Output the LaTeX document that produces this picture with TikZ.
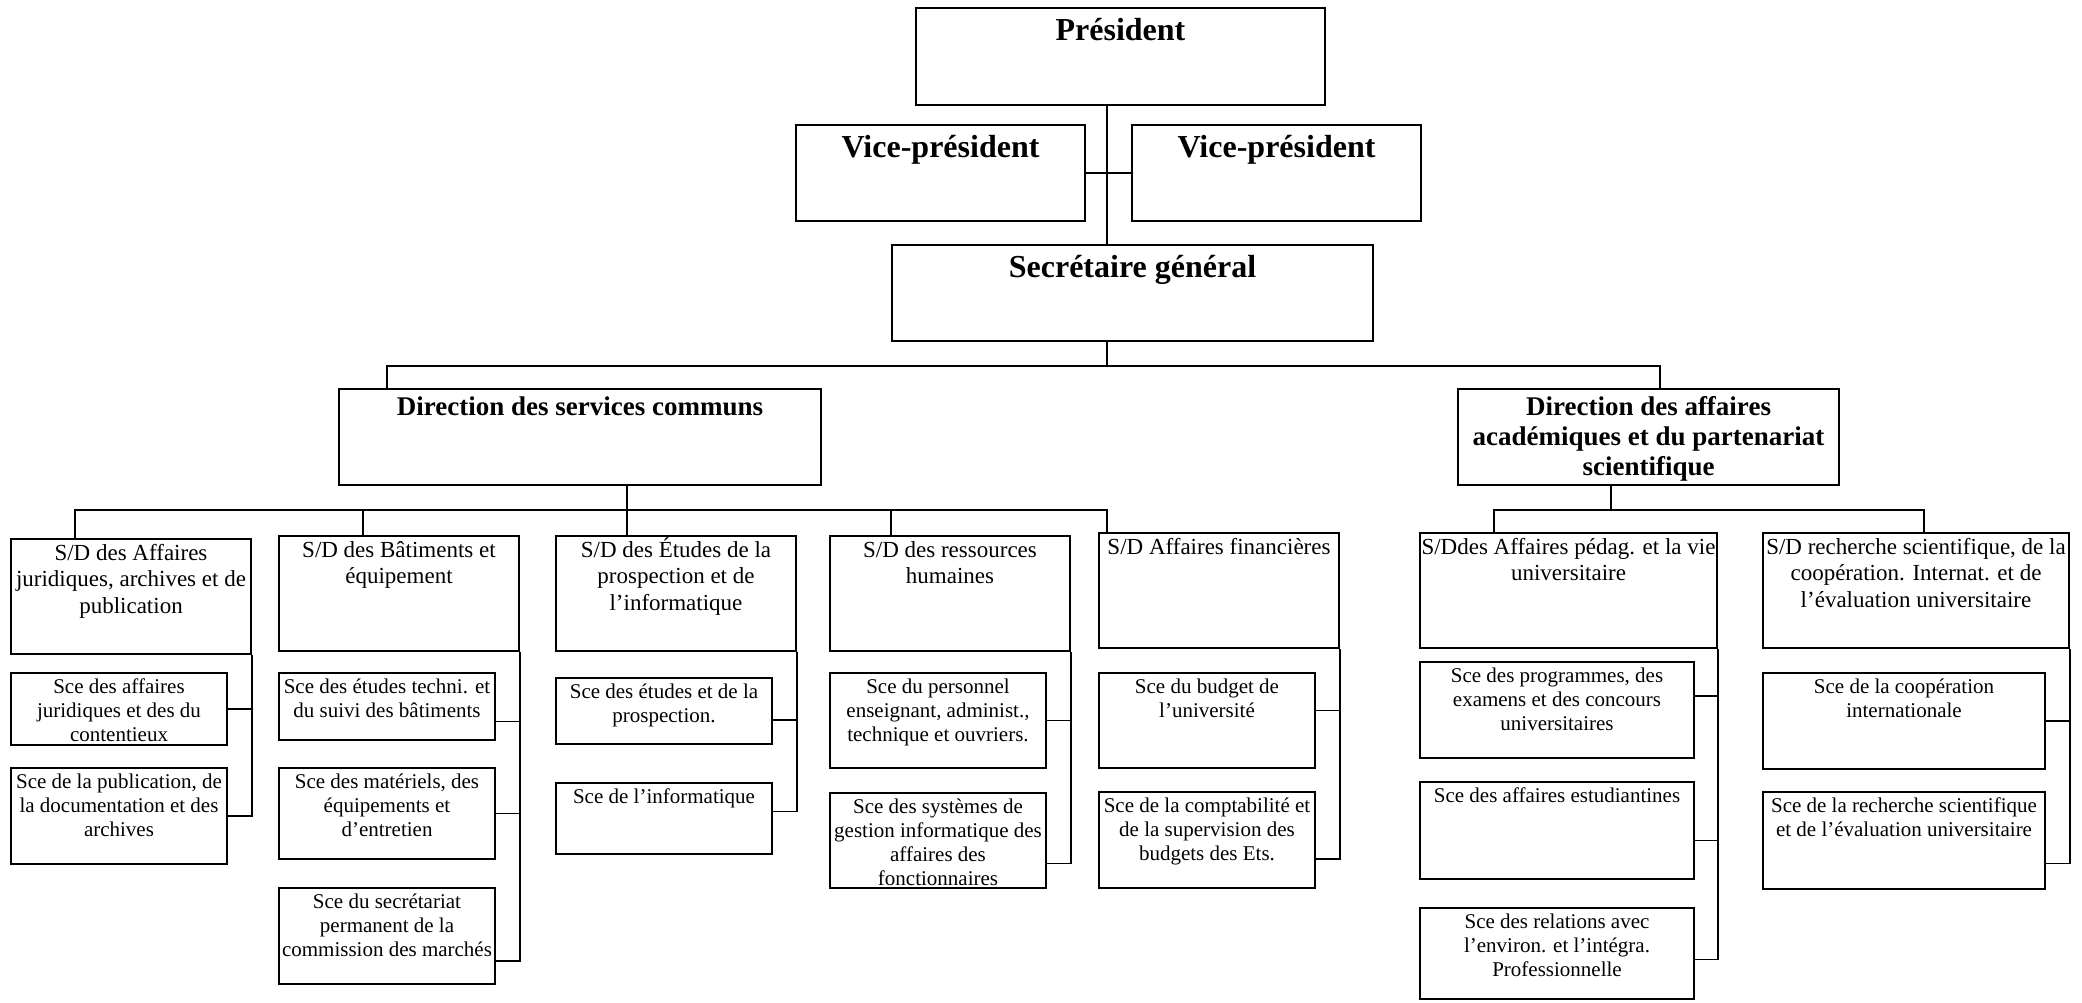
\documentclass[tikz,border=0pt]{standalone}
\usepackage{fontspec}
\setmainfont{Liberation Serif}
\usepackage{tikz}
\usetikzlibrary{calc}

% 1 pixel de l'original = 0.5pt
\newdimen\pxu
\pxu=0.5pt
\newlength{\hautmarge}
\newcommand{\cadre}[3]{\parbox[t][#2\pxu][t]{#1\pxu}{\centering\rule{0pt}{\hautmarge}#3}}

\begin{document}
\begin{tikzpicture}[
	x=0.5pt,
	y=-0.5pt,
	boite/.style={
		draw,
		line width=1pt,
		inner sep=0pt,
		anchor=north west
	},
	chef/.style={
		boite,
		font=\bfseries\fontsize{16}{19}\selectfont\setlength{\hautmarge}{16pt}
	},
	direction/.style={
		boite,
		font=\bfseries\fontsize{13.5}{15}\selectfont\setlength{\hautmarge}{13pt}
	},
	sousdir/.style={
		boite,
		font=\fontsize{11.5}{13.3}\selectfont\setlength{\hautmarge}{10.5pt}
	},
	service/.style={
		boite,
		font=\fontsize{10.5}{12}\selectfont\setlength{\hautmarge}{10pt}
	},
	lien/.style={
		line width=0.9pt
	}
]
	\useasboundingbox (0,0) rectangle (2082,1002);

	% Président
	\node[chef] (pres) at (915,7) {\cadre{409}{97}{Président}};
	% Vice-présidents
	\node[chef] (vpg) at (795,124) {\cadre{289}{96}{Vice-président}};
	\node[chef] (vpd) at (1131,124) {\cadre{289}{96}{Vice-président}};
	% Secrétaire général
	\node[chef] (sg) at (891,244) {\cadre{481}{96}{Secrétaire général}};

	% Directions
	\node[direction] (dsc) at (338,388) {\cadre{482}{96}{Direction des services communs}};
	\node[direction] (daa) at (1457,388) {\cadre{381}{96}{Direction des affaires\\académiques et du partenariat\\scientifique}};

	% Sous-directions (services communs)
	\node[sousdir] (sdjur) at (10,538) {\cadre{240}{115}{S/D des Affaires\\juridiques, archives et de\\publication}};
	\node[sousdir] (sdbat) at (278,535) {\cadre{240}{115}{S/D des Bâtiments et\\équipement}};
	\node[sousdir] (sdetu) at (555,535) {\cadre{240}{115}{S/D des Études de la\\prospection et de\\l’informatique}};
	\node[sousdir] (sdrh) at (829,535) {\cadre{240}{115}{S/D des ressources\\humaines}};
	\node[sousdir] (sdfin) at (1098,532) {\cadre{240}{115}{S/D Affaires financières}};
	% Sous-directions (affaires académiques)
	\node[sousdir] (sdped) at (1419,532) {\cadre{297}{115}{S/Ddes Affaires pédag. et la vie\\universitaire}};
	\node[sousdir] (sdrec) at (1762,532) {\cadre{306}{115}{S/D recherche scientifique, de la\\coopération. Internat. et de\\l’évaluation universitaire}};

	% Services
	\node[service] (jur1) at (10,672) {\cadre{216}{72}{Sce des affaires\\juridiques et des du\\contentieux}};
	\node[service] (jur2) at (10,767) {\cadre{216}{96}{Sce de la publication, de\\la documentation et des\\archives}};
	\node[service] (bat1) at (278,672) {\cadre{216}{67}{Sce des études techni. et\\du suivi des bâtiments}};
	\node[service] (bat2) at (278,767) {\cadre{216}{91}{Sce des matériels, des\\équipements et\\d’entretien}};
	\node[service] (bat3) at (278,887) {\cadre{216}{96}{Sce du secrétariat\\permanent de la\\commission des marchés}};
	\node[service] (etu1) at (555,677) {\cadre{216}{66}{Sce des études et de la\\prospection.}};
	\node[service] (etu2) at (555,782) {\cadre{216}{71}{Sce de l’informatique}};
	\node[service] (rh1) at (829,672) {\cadre{216}{95}{Sce du personnel\\enseignant, administ.,\\technique et ouvriers.}};
	\node[service] (rh2) at (829,792) {\cadre{216}{95}{Sce des systèmes de\\gestion informatique des\\affaires des\\fonctionnaires}};
	\node[service] (fin1) at (1098,672) {\cadre{216}{95}{Sce du budget de\\l’université}};
	\node[service] (fin2) at (1098,791) {\cadre{216}{96}{Sce de la comptabilité et\\de la supervision des\\budgets des Ets.}};
	\node[service] (ped1) at (1419,661) {\cadre{274}{96}{Sce des programmes, des\\examens et des concours\\universitaires}};
	\node[service] (ped2) at (1419,781) {\cadre{274}{97}{Sce des affaires estudiantines}};
	\node[service] (ped3) at (1419,907) {\cadre{274}{91}{Sce des relations avec\\l’environ. et l’intégra.\\Professionnelle}};
	\node[service] (rec1) at (1762,672) {\cadre{282}{96}{Sce de la coopération\\internationale}};
	\node[service] (rec2) at (1762,791) {\cadre{282}{97}{Sce de la recherche scientifique\\et de l’évaluation universitaire}};

	% Président - Secrétaire général
	\draw[lien] ($(pres.south west)+(192,0)$) -- ($(sg.north west)+(216,0)$);
	% Vice-présidents
	\draw[lien] (vpg.east) -- (vpd.west);
	% Secrétaire général - directions
	\draw[lien] ($(sg.south west)+(216,0)$) -- ++(0,24) coordinate (busdir);
	\draw[lien] ($(dsc.north west)+(49,0)$) |- (busdir) -| ($(daa.north west)+(203,0)$);

	% Direction des services communs - sous-directions
	\draw[lien] ($(dsc.south west)+(289,0)$) -- ++(0,24) coordinate (buscom);
	\draw[lien] ($(sdjur.north west)+(65,0)$) |- (buscom);
	\draw[lien] ($(sdbat.north west)+(85,0)$) |- (buscom);
	\draw[lien] ($(sdetu.north west)+(72,0)$) -- (buscom);
	\draw[lien] ($(sdrh.north west)+(62,0)$) |- (buscom);
	\draw[lien] ($(sdfin.north west)+(9,0)$) |- (buscom);

	% Direction des affaires académiques - sous-directions
	\draw[lien] ($(daa.south west)+(154,0)$) -- ++(0,24) coordinate (busaca);
	\draw[lien] ($(sdped.north west)+(75,0)$) |- (busaca);
	\draw[lien] ($(sdrec.north west)+(162,0)$) |- (busaca);

	% Sous-directions - services
	\draw[lien] (jur1.east) -| (sdjur.south east);
	\draw[lien] (jur2.east) -| (sdjur.south east);
	\draw[lien] ($(bat1.east)+(0,15)$) -| (sdbat.south east);
	\draw[lien] (bat2.east) -| (sdbat.south east);
	\draw[lien] ($(bat3.east)+(0,25)$) -| (sdbat.south east);
	\draw[lien] ($(etu1.east)+(0,9)$) -| (sdetu.south east);
	\draw[lien] ($(etu2.east)+(0,-7)$) -| (sdetu.south east);
	\draw[lien] (rh1.east) -| (sdrh.south east);
	\draw[lien] ($(rh2.east)+(0,23)$) -| (sdrh.south east);
	\draw[lien] ($(fin1.east)+(0,-10)$) -| (sdfin.south east);
	\draw[lien] ($(fin2.east)+(0,19)$) -| (sdfin.south east);
	\draw[lien] ($(ped1.east)+(0,-14)$) -| (sdped.south east);
	\draw[lien] ($(ped2.east)+(0,10)$) -| (sdped.south east);
	\draw[lien] ($(ped3.east)+(0,6)$) -| (sdped.south east);
	\draw[lien] (rec1.east) -| (sdrec.south east);
	\draw[lien] ($(rec2.east)+(0,23)$) -| (sdrec.south east);

\end{tikzpicture}
\end{document}
